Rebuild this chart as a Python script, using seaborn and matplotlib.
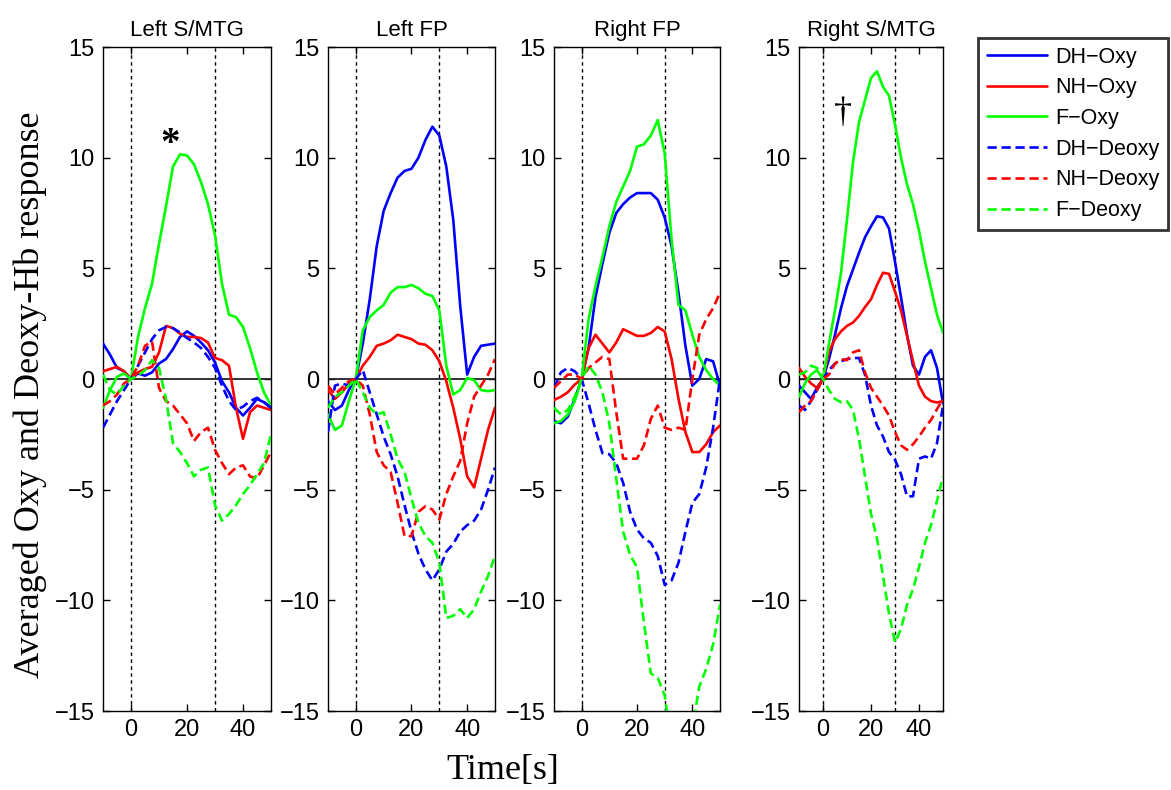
import numpy as np
import pandas as pd
import matplotlib
matplotlib.use("Agg")
import matplotlib.pyplot as plt
import seaborn as sns

t = [-10, -7.5, -5, -2.5, 0, 2.5, 5, 7.5, 10, 12.5, 15, 17.5, 20, 22.5, 25,
     27.5, 30, 32.5, 35, 37.5, 40, 42.5, 45, 47.5, 50]

series_names = ["DH−Oxy", "NH−Oxy", "F−Oxy", "DH−Deoxy", "NH−Deoxy", "F−Deoxy"]
panel_titles = ["Left S/MTG", "Left FP", "Right FP", "Right S/MTG"]

# ---- Left S/MTG ----
lsm_dh_oxy = [1.6, 1.1, 0.5, 0.35, 0, 0.25, 0.15, 0.3, 0.7, 0.9, 1.35, 1.9, 2.15, 1.95, 1.65,
              1.3, 0.75, -0.1, -0.6, -1.3, -1.65, -1.3, -0.9, -1.05, -1.3]
lsm_nh_oxy = [0.35, 0.45, 0.55, 0.35, 0, 0.3, 0.45, 0.55, 1.2, 2.4, 2.3, 2.05, 1.9, 1.9, 1.85,
              1.65, 0.95, 0.85, 0.6, -1.3, -2.7, -1.5, -1.2, -1.3, -1.4]
lsm_f_oxy = [-1.3, -0.5, 0.1, 0.25, 0, 1.9, 3.2, 4.3, 6.1, 7.8, 9.6, 10.15, 10.1, 9.7, 8.9,
             7.9, 6.5, 4.3, 2.9, 2.8, 2.35, 1.4, 0.3, -0.6, -1.2]
lsm_dh_deoxy = [-2.2, -1.6, -1.0, -0.5, 0, 0.6, 1.2, 1.8, 2.2, 2.35, 2.3, 2.1, 1.85, 1.65, 1.4,
                1.0, 0.5, -0.3, -1.0, -1.4, -1.25, -1.0, -0.85, -1.05, -1.3]
lsm_nh_deoxy = [-1.2, -1.0, -0.7, -0.2, 0, 0.6, 1.5, 1.7, -0.4, -1.0, -1.2, -1.6, -2.0, -2.8, -2.4,
                -2.2, -3.2, -3.8, -4.3, -4.0, -3.9, -4.4, -4.5, -3.9, -3.3]
lsm_f_deoxy = [0.2, -0.5, -0.7, -0.3, 0, 0.15, 0.4, 0.85, 0.5, -0.9, -2.9, -3.3, -3.8, -4.4, -4.1,
               -4.0, -5.7, -6.4, -6.1, -5.7, -5.2, -4.8, -4.3, -3.8, -2.5]

# ---- Left FP ----
lfp_dh_oxy = [-1.0, -1.4, -1.2, -0.5, 0, 1.6, 3.6, 6.0, 7.6, 8.4, 9.1, 9.4, 9.5, 10.0, 10.8,
              11.4, 11.0, 9.6, 7.2, 3.3, 0.2, 1.0, 1.5, 1.55, 1.6]
lfp_nh_oxy = [-0.5, -0.9, -0.6, -0.2, 0, 0.6, 1.0, 1.5, 1.6, 1.75, 2.0, 1.9, 1.8, 1.6, 1.55,
              1.3, 0.8, -0.1, -1.3, -2.7, -4.4, -4.9, -3.6, -2.3, -1.3]
lfp_f_oxy = [-1.6, -2.3, -2.1, -1.0, 0, 2.2, 2.8, 3.1, 3.35, 3.9, 4.15, 4.15, 4.25, 4.1, 3.85,
             3.75, 3.1, 0.6, -0.7, -0.5, 0.05, -0.05, -0.5, -0.55, -0.5]
lfp_dh_deoxy = [-2.4, -0.3, -0.2, -0.3, 0, 0.4, -0.6, -1.6, -2.6, -3.4, -4.4, -5.7, -6.9, -7.9, -8.6,
                -9.1, -8.6, -7.8, -7.45, -6.9, -6.6, -6.4, -5.9, -5.0, -4.0]
lfp_nh_deoxy = [-0.3, -0.7, -0.4, -0.1, 0, -0.3, -1.6, -3.3, -3.9, -4.2, -5.6, -7.1, -7.1, -6.0, -5.75,
                -5.9, -6.35, -5.2, -4.4, -3.7, -2.0, -0.8, -0.3, 0.2, 0.9]
lfp_f_deoxy = [-1.3, -0.8, -0.6, -0.3, 0, -0.6, -1.3, -1.6, -1.5, -2.5, -3.6, -4.2, -5.4, -6.5, -7.1,
               -7.4, -8.3, -10.8, -10.7, -10.4, -10.8, -10.4, -9.6, -8.9, -8.0]

# ---- Right FP ----
rfp_dh_oxy = [-1.9, -2.0, -1.7, -0.9, 0, 1.4, 3.7, 5.2, 6.6, 7.5, 7.9, 8.2, 8.4, 8.4, 8.4,
              8.1, 7.3, 6.0, 3.9, 1.5, -0.3, 0.0, 0.9, 0.8, -0.3]
rfp_nh_oxy = [-0.95, -0.8, -0.6, -0.25, 0, 1.4, 2.0, 1.6, 1.2, 1.65, 2.25, 2.1, 1.95, 1.95, 2.08,
              2.35, 2.15, 0.9, -0.9, -2.4, -3.3, -3.3, -2.95, -2.4, -2.1]
rfp_f_oxy = [-2.0, -1.9, -1.6, -1.0, 0, 2.7, 4.2, 5.5, 6.9, 8.0, 8.7, 9.4, 10.5, 10.6, 11.0,
             11.7, 10.2, 6.3, 3.35, 3.1, 2.0, 1.0, 0.4, 0.0, -0.3]
rfp_dh_deoxy = [-0.4, 0.3, 0.5, 0.35, 0, -1.1, -2.3, -3.35, -3.4, -3.8, -4.7, -6.0, -6.8, -7.2, -7.4,
                -8.0, -9.3, -9.1, -8.3, -6.9, -5.6, -5.2, -4.0, -2.2, 0.0]
rfp_nh_deoxy = [-0.4, -0.1, 0.2, 0.2, 0, 0.5, 0.75, 1.0, 0.9, -1.5, -3.6, -3.6, -3.6, -3.0, -1.8,
                -1.2, -2.2, -2.3, -2.2, -2.3, 0.0, 2.0, 2.7, 3.2, 3.9]
rfp_f_deoxy = [-1.3, -1.6, -1.4, -0.8, 0, 0.6, 0.2, -0.6, -2.0, -4.5, -6.9, -7.95, -8.5, -11.0, -13.3,
               -13.5, -14.3, -16.5, -17.0, -17.0, -15.8, -13.9, -13.1, -12.0, -10.2]

# ---- Right S/MTG ----
rsm_dh_oxy = [-0.3, -0.6, -0.9, -0.4, 0, 0.9, 2.0, 3.2, 4.2, 4.95, 5.7, 6.4, 6.9, 7.35, 7.3,
              6.8, 5.3, 3.7, 2.0, 0.6, 0.2, 1.0, 1.3, 0.5, -1.1]
rsm_nh_oxy = [0.5, 0.1, -0.2, -0.4, 0, 1.25, 1.8, 2.15, 2.4, 2.55, 2.85, 3.25, 3.6, 4.25, 4.8,
              4.75, 3.95, 3.1, 1.95, 0.8, -0.3, -0.8, -1.0, -1.06, -1.0]
rsm_f_oxy = [-0.8, -0.2, 0.2, 0.4, 0, 1.6, 3.1, 4.8, 7.2, 9.8, 11.6, 12.6, 13.6, 13.9, 13.2,
             12.8, 11.5, 10.0, 8.8, 7.9, 6.7, 5.3, 4.1, 2.9, 2.1]
rsm_dh_deoxy = [-1.2, -1.4, -1.0, -0.5, 0, 0.4, 0.7, 0.8, 0.9, 0.95, 0.95, 0.2, -1.2, -2.1, -2.6,
                -3.3, -3.65, -4.3, -5.3, -5.3, -3.6, -3.5, -3.6, -2.9, -1.2]
rsm_nh_deoxy = [-1.5, -1.2, -1.0, -0.5, 0, 0.2, 0.7, 0.9, 0.85, 1.2, 1.3, 0.3, -0.4, -0.8, -1.2,
                -1.65, -2.4, -3.0, -3.2, -2.95, -2.6, -2.2, -1.85, -1.36, -0.9]
rsm_f_deoxy = [0.2, 0.3, 0.6, 0.5, 0, -0.5, -0.9, -1.05, -1.0, -1.4, -2.7, -4.4, -6.1, -7.2, -8.9,
               -10.6, -11.9, -11.3, -10.2, -9.5, -8.5, -7.4, -6.6, -5.5, -4.4]

panels = [
    [lsm_dh_oxy, lsm_nh_oxy, lsm_f_oxy, lsm_dh_deoxy, lsm_nh_deoxy, lsm_f_deoxy],
    [lfp_dh_oxy, lfp_nh_oxy, lfp_f_oxy, lfp_dh_deoxy, lfp_nh_deoxy, lfp_f_deoxy],
    [rfp_dh_oxy, rfp_nh_oxy, rfp_f_oxy, rfp_dh_deoxy, rfp_nh_deoxy, rfp_f_deoxy],
    [rsm_dh_oxy, rsm_nh_oxy, rsm_f_oxy, rsm_dh_deoxy, rsm_nh_deoxy, rsm_f_deoxy],
]

x_ticks = [0, 20, 40]
y_ticks = [-15, -10, -5, 0, 5, 10, 15]
stim_lines = [0, 30]

palette = {"DH−Oxy": "#0000ff", "NH−Oxy": "#ff0000", "F−Oxy": "#00ff00",
           "DH−Deoxy": "#0000ff", "NH−Deoxy": "#ff0000", "F−Deoxy": "#00ff00"}
dashes = {"DH−Oxy": "", "NH−Oxy": "", "F−Oxy": "",
          "DH−Deoxy": (3.5, 1.8), "NH−Deoxy": (3.5, 1.8), "F−Deoxy": (3.5, 1.8)}

sns.set_style("ticks")
plt.rcParams["font.family"] = ["Liberation Sans", "DejaVu Sans"]
for k in ["text.color", "axes.labelcolor", "xtick.color", "ytick.color", "axes.edgecolor"]:
    plt.rcParams[k] = "black"

fig = plt.figure(figsize=(11.71, 7.90), dpi=100)
W, H = 1171, 790
boxes = [(103, 271), (328, 495), (554, 720), (799, 943)]
top_px, bot_px = 47, 711

axes = []
for i, (l, r) in enumerate(boxes):
    ax = fig.add_axes([l / W, 1 - bot_px / H, (r - l) / W, (bot_px - top_px) / H])
    axes.append(ax)
    rows = []
    for name, vals in zip(series_names, panels[i]):
        for tt, v in zip(t, vals):
            rows.append({"t": tt, "v": v, "series": name})
    df = pd.DataFrame(rows)
    for xv in stim_lines:
        ax.axvline(xv, color="black", lw=1.0, ls=(0, (2.5, 2.5)), zorder=1)
    ax.axhline(0, color="#222222", lw=1.3, zorder=1)
    sns.lineplot(data=df, x="t", y="v", hue="series", style="series",
                 hue_order=series_names, style_order=series_names,
                 palette=palette, dashes=dashes, lw=1.9, ax=ax, legend=(i == 0),
                 zorder=3)
    ax.set_xlim(-10, 50)
    ax.set_ylim(-15, 15)
    ax.set_xticks(x_ticks)
    ax.set_yticks(y_ticks)
    ax.tick_params(direction="in", top=True, right=True, length=5, width=1,
                   labelsize=17, pad=6, colors="black")
    ax.set_xlabel("")
    ax.set_ylabel("")
    for sp in ax.spines.values():
        sp.set_linewidth(1.0)
        sp.set_color("black")
    ax.set_title(panel_titles[i], fontsize=16, pad=8, color="black")

handles, labels = axes[0].get_legend_handles_labels()
axes[0].get_legend().remove()
leg = fig.legend(handles, labels, loc="upper left",
                 bbox_to_anchor=(978 / W, 1 - 38 / H), fontsize=15.5,
                 frameon=True, fancybox=False, handlelength=2.8,
                 borderaxespad=0, labelspacing=0.45, borderpad=0.4,
                 handletextpad=0.4)
leg.get_frame().set_edgecolor("black")
leg.get_frame().set_linewidth(2.0)
for txt in leg.get_texts():
    txt.set_color("black")

axes[0].text(13.9, 10.6, "*", fontsize=28, fontweight="bold", ha="center",
             va="center", family=["Liberation Serif", "DejaVu Serif"])
axes[3].text(8.3, 12.0, "†", fontsize=26, ha="center", va="center",
             family=["Liberation Serif", "DejaVu Serif"])

fig.text(30 / W, 0.5, "Averaged Oxy and Deoxy-Hb response", rotation=90,
         ha="center", va="center", fontsize=26,
         family=["Liberation Serif", "DejaVu Serif"])
fig.text(503 / W, 1 - 770 / H, "Time[s]", ha="center", va="center",
         fontsize=26, family=["Liberation Serif", "DejaVu Serif"])

fig.savefig("out.png", dpi=100)
